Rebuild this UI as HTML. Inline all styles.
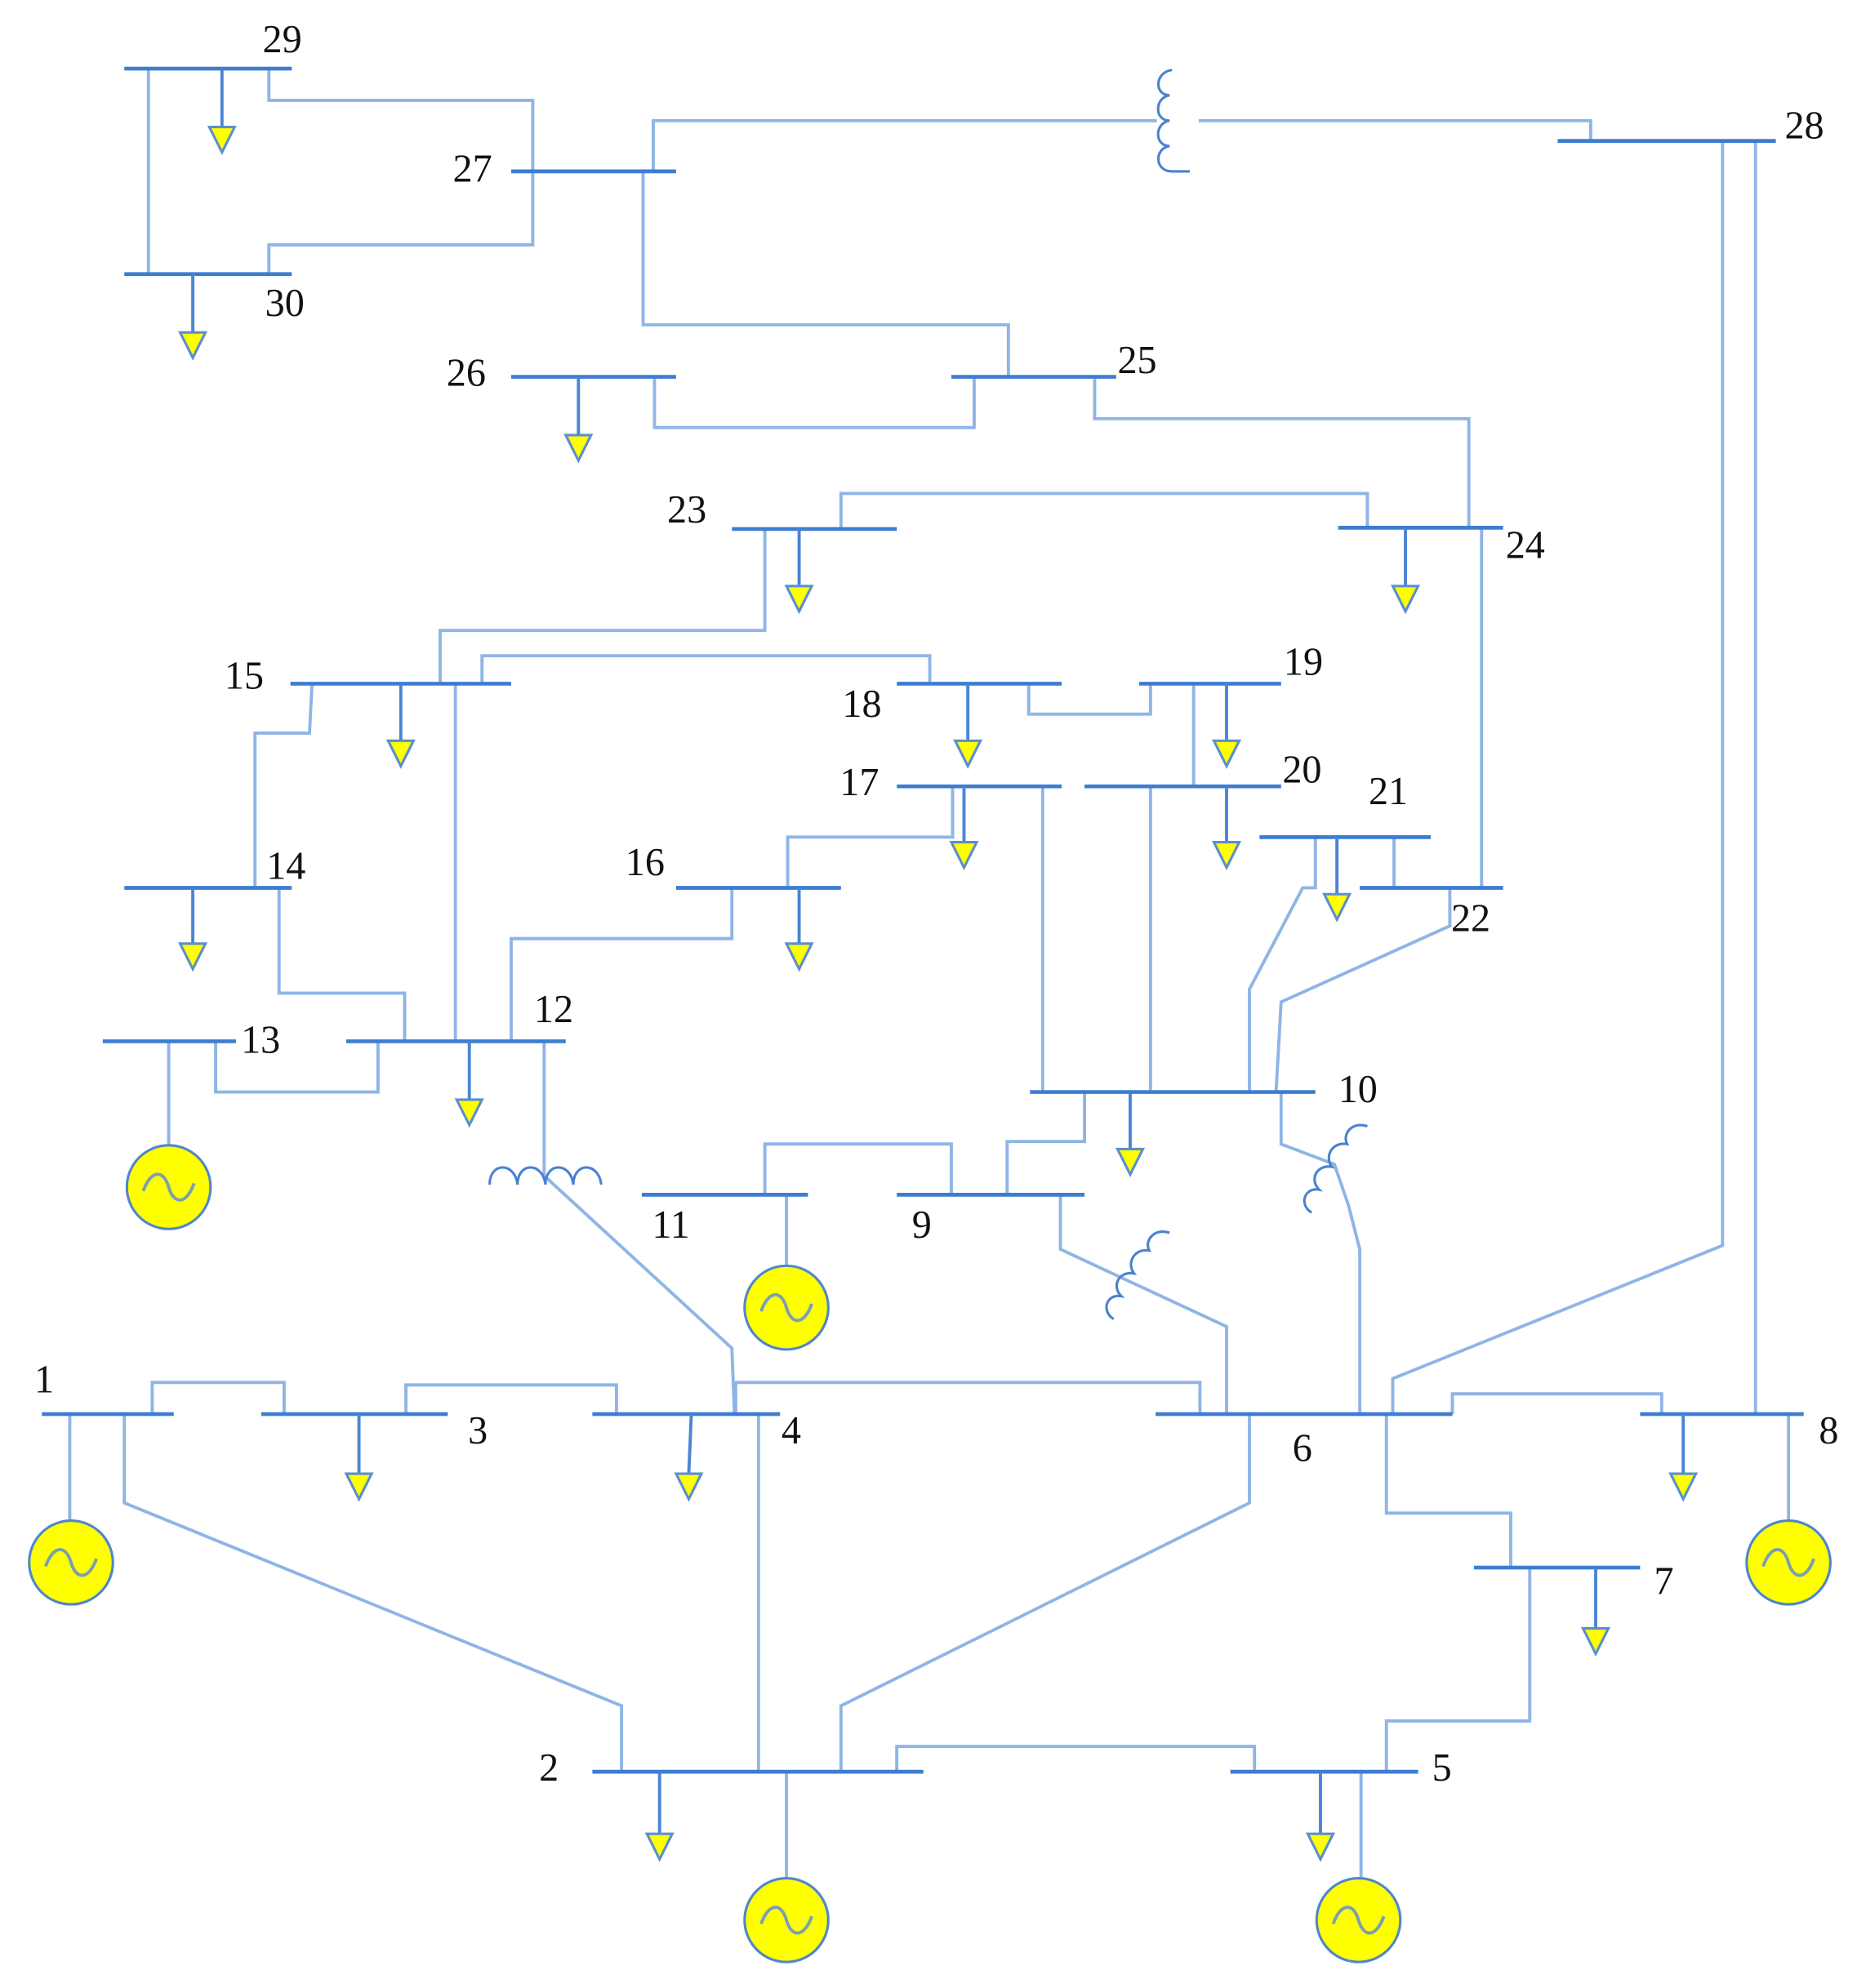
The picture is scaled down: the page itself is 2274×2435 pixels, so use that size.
<!DOCTYPE html>
<html><head><meta charset="utf-8"><style>
html,body{margin:0;padding:0;background:#fff;}
svg{display:block;}
text{font-family:"Liberation Serif",serif;font-size:31px;fill:#111;}
</style></head><body>
<svg width="2274" height="2435" viewBox="0 0 1464 1567.4" xmlns="http://www.w3.org/2000/svg">
<defs>
<g id="ld"><polygon points="-10,0 10,0 0,20" fill="#ffff00" stroke="#5a8fcf" stroke-width="2"/></g>
<g id="gen"><circle r="33" fill="#ffff00" stroke="#4f86cc" stroke-width="2"/><path d="M-20,3 C-14,-14 -4,-14 0,0 C4,14 14,14 20,-3" fill="none" stroke="#7a9fb0" stroke-width="2.5"/></g>
</defs>
<g fill="none" stroke="#8fb5e6" stroke-width="2.5">
<polyline points="212,54 212,79 420,79 420,193 212,193 212,216"/>
<line x1="117" y1="54" x2="117" y2="216"/>
<polyline points="515,135 515,95 912,95"/>
<polyline points="945,95 1254,95 1254,111"/>
<polyline points="507,135 507,256 795,256 795,297"/>
<polyline points="516,297 516,337 768,337 768,297"/>
<polyline points="863,297 863,330 1158,330 1158,416"/>
<polyline points="663,417 663,389 1078,389 1078,416"/>
<line x1="1168" y1="416" x2="1168" y2="700"/>
<polyline points="603,417 603,497 347,497 347,539"/>
<polyline points="380,539 380,517 733,517 733,539"/>
<polyline points="246,539 244,578 201,578 201,700"/>
<line x1="359" y1="539" x2="359" y2="821"/>
<polyline points="811,539 811,563 907,563 907,539"/>
<line x1="941" y1="539" x2="941" y2="620"/>
<polyline points="751,620 751,660 621,660 621,700"/>
<line x1="822" y1="620" x2="822" y2="861"/>
<line x1="907" y1="620" x2="907" y2="861"/>
<line x1="1099" y1="660" x2="1099" y2="700"/>
<polyline points="1037,660 1037,700 1027,700 985,780 985,861"/>
<polyline points="1143,700 1143,730 1010,790 1006,861"/>
<polyline points="220,700 220,783 319,783 319,821"/>
<polyline points="577,700 577,740 403,740 403,821"/>
<polyline points="170,821 170,861 298,861 298,821"/>
<polyline points="429,821 429,927 577,1063 579,1115"/>
<polyline points="855,861 855,900 794,900 794,942"/>
<polyline points="1010,861 1010,902 1052,918 1063,950 1072,985 1072,1115"/>
<polyline points="603,942 603,902 750,902 750,942"/>
<polyline points="836,942 836,985 967,1046 967,1115"/>
<polyline points="1358,111 1358,982 1098,1087 1098,1115"/>
<line x1="1384" y1="111" x2="1384" y2="1115"/>
<polyline points="120,1115 120,1090 224,1090 224,1115"/>
<polyline points="98,1115 98,1185 490,1345 490,1397"/>
<polyline points="320,1115 320,1092 486,1092 486,1115"/>
<polyline points="580,1115 580,1090 946,1090 946,1115"/>
<line x1="598" y1="1115" x2="598" y2="1397"/>
<polyline points="985,1115 985,1185 663,1345 663,1397"/>
<polyline points="1145,1115 1145,1099 1310,1099 1310,1115"/>
<polyline points="1093,1115 1093,1193 1191,1193 1191,1236"/>
<polyline points="1206,1236 1206,1357 1093,1357 1093,1397"/>
<polyline points="707,1397 707,1377 989,1377 989,1397"/>
<line x1="133" y1="821" x2="133" y2="903"/>
<line x1="620" y1="942" x2="620" y2="998"/>
<line x1="55" y1="1115" x2="55" y2="1199"/>
<line x1="1410" y1="1115" x2="1410" y2="1199"/>
<line x1="620" y1="1397" x2="620" y2="1481"/>
<line x1="1073" y1="1397" x2="1073" y2="1481"/>
</g>
<g fill="none" stroke="#4a82d0" stroke-width="2">
<path d="M924,55 C910,57 910,75 922,75 C910,77 910,95 922,95 C910,97 910,115 922,115 C910,117 910,135 924,135 L938,135"/>
<path d="M386,934 C386,916 406,916 408,934 C408,916 428,916 430,934 C430,916 450,916 452,934 C452,916 472,916 474,934"/>
<path d="M1078,888 C1066,884 1058,894 1062,902 C1050,900 1044,912 1050,920 C1038,918 1032,930 1040,938 C1028,936 1024,950 1034,956"/>
<path d="M922,972 C910,968 902,978 906,986 C894,984 888,996 894,1004 C882,1002 876,1014 884,1022 C872,1020 868,1034 878,1040"/>
</g>
<g stroke="#3d7dd0" stroke-width="3" fill="none">
<line x1="98" y1="54" x2="230" y2="54"/>
<line x1="98" y1="216" x2="230" y2="216"/>
<line x1="403" y1="135" x2="533" y2="135"/>
<line x1="403" y1="297" x2="533" y2="297"/>
<line x1="750" y1="297" x2="880" y2="297"/>
<line x1="1228" y1="111" x2="1400" y2="111"/>
<line x1="577" y1="417" x2="707" y2="417"/>
<line x1="1055" y1="416" x2="1185" y2="416"/>
<line x1="229" y1="539" x2="403" y2="539"/>
<line x1="707" y1="539" x2="837" y2="539"/>
<line x1="898" y1="539" x2="1010" y2="539"/>
<line x1="707" y1="620" x2="837" y2="620"/>
<line x1="855" y1="620" x2="1010" y2="620"/>
<line x1="993" y1="660" x2="1128" y2="660"/>
<line x1="1072" y1="700" x2="1185" y2="700"/>
<line x1="98" y1="700" x2="230" y2="700"/>
<line x1="533" y1="700" x2="663" y2="700"/>
<line x1="81" y1="821" x2="186" y2="821"/>
<line x1="273" y1="821" x2="446" y2="821"/>
<line x1="812" y1="861" x2="1037" y2="861"/>
<line x1="506" y1="942" x2="637" y2="942"/>
<line x1="707" y1="942" x2="855" y2="942"/>
<line x1="33" y1="1115" x2="137" y2="1115"/>
<line x1="206" y1="1115" x2="353" y2="1115"/>
<line x1="467" y1="1115" x2="615" y2="1115"/>
<line x1="911" y1="1115" x2="1145" y2="1115"/>
<line x1="1293" y1="1115" x2="1422" y2="1115"/>
<line x1="1162" y1="1236" x2="1293" y2="1236"/>
<line x1="467" y1="1397" x2="728" y2="1397"/>
<line x1="970" y1="1397" x2="1118" y2="1397"/>
</g>
<g stroke="#4a85d2" stroke-width="2.5">
<line x1="175" y1="54" x2="175" y2="100"/>
<line x1="152" y1="216" x2="152" y2="262"/>
<line x1="456" y1="297" x2="456" y2="343"/>
<line x1="630" y1="417" x2="630" y2="462"/>
<line x1="1108" y1="416" x2="1108" y2="462"/>
<line x1="316" y1="539" x2="316" y2="584"/>
<line x1="763" y1="539" x2="763" y2="584"/>
<line x1="967" y1="539" x2="967" y2="584"/>
<line x1="760" y1="620" x2="760" y2="664"/>
<line x1="967" y1="620" x2="967" y2="664"/>
<line x1="1054" y1="660" x2="1054" y2="705"/>
<line x1="152" y1="700" x2="152" y2="744"/>
<line x1="630" y1="700" x2="630" y2="744"/>
<line x1="370" y1="821" x2="370" y2="867"/>
<line x1="891" y1="861" x2="891" y2="906"/>
<line x1="283" y1="1115" x2="283" y2="1162"/>
<line x1="545" y1="1115" x2="543" y2="1162"/>
<line x1="1327" y1="1115" x2="1327" y2="1162"/>
<line x1="1258" y1="1236" x2="1258" y2="1284"/>
<line x1="520" y1="1397" x2="520" y2="1446"/>
<line x1="1041" y1="1397" x2="1041" y2="1446"/>
</g>
<use href="#ld" x="175" y="100"/><use href="#ld" x="152" y="262"/><use href="#ld" x="456" y="343"/>
<use href="#ld" x="630" y="462"/><use href="#ld" x="1108" y="462"/><use href="#ld" x="316" y="584"/>
<use href="#ld" x="763" y="584"/><use href="#ld" x="967" y="584"/><use href="#ld" x="760" y="664"/>
<use href="#ld" x="967" y="664"/><use href="#ld" x="1054" y="705"/><use href="#ld" x="152" y="744"/>
<use href="#ld" x="630" y="744"/><use href="#ld" x="370" y="867"/><use href="#ld" x="891" y="906"/>
<use href="#ld" x="283" y="1162"/><use href="#ld" x="543" y="1162"/><use href="#ld" x="1327" y="1162"/>
<use href="#ld" x="1258" y="1284"/><use href="#ld" x="520" y="1446"/><use href="#ld" x="1041" y="1446"/>
<use href="#gen" x="133" y="936"/><use href="#gen" x="620" y="1031"/><use href="#gen" x="56" y="1232"/>
<use href="#gen" x="1410" y="1232"/><use href="#gen" x="620" y="1514"/><use href="#gen" x="1071" y="1514"/>
<text x="207" y="41">29</text><text x="209" y="249">30</text><text x="357" y="143">27</text>
<text x="352" y="304">26</text><text x="881" y="294">25</text><text x="1407" y="109">28</text>
<text x="526" y="412">23</text><text x="1187" y="440">24</text><text x="177" y="543">15</text>
<text x="664" y="565">18</text><text x="1012" y="532">19</text><text x="662" y="627">17</text>
<text x="1011" y="617">20</text><text x="1079" y="634">21</text><text x="1144" y="734">22</text>
<text x="210" y="693">14</text><text x="493" y="690">16</text><text x="190" y="830">13</text>
<text x="421" y="806">12</text><text x="1055" y="869">10</text><text x="514" y="976">11</text>
<text x="719" y="976">9</text><text x="27" y="1098">1</text><text x="369" y="1138">3</text>
<text x="616" y="1138">4</text><text x="1019" y="1152">6</text><text x="1434" y="1138">8</text>
<text x="1304" y="1257">7</text><text x="425" y="1404">2</text><text x="1129" y="1404">5</text>
</svg>
</body></html>
